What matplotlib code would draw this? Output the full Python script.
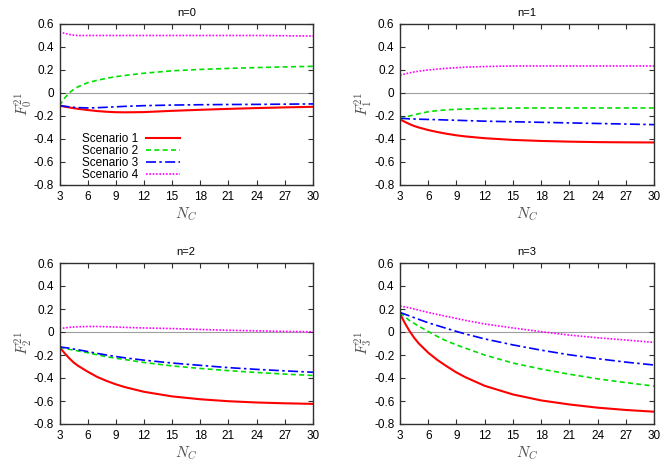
import numpy as np
import matplotlib
matplotlib.use('Agg')
import matplotlib.pyplot as plt

plt.rcParams['font.family'] = ['Liberation Sans', 'DejaVu Sans']
plt.rcParams['mathtext.fontset'] = 'cm'

# sampled N_C values
nc = [3, 3.5, 4, 4.5, 5, 6, 7, 8, 9, 10, 12, 15, 18, 21, 24, 27, 30]

# n=0
s1_n0 = [-0.11, -0.118, -0.125, -0.132, -0.138, -0.148, -0.157, -0.163, -0.167, -0.168, -0.166, -0.155, -0.146, -0.138, -0.131, -0.125, -0.12]
s2_n0 = [-0.11, -0.05, 0.0, 0.03, 0.055, 0.09, 0.11, 0.128, 0.142, 0.153, 0.172, 0.193, 0.205, 0.214, 0.221, 0.227, 0.232]
s3_n0 = [-0.11, -0.115, -0.12, -0.124, -0.127, -0.13, -0.128, -0.124, -0.12, -0.116, -0.11, -0.105, -0.102, -0.1, -0.099, -0.097, -0.095]
s4_n0 = [0.53, 0.52, 0.51, 0.503, 0.50, 0.50, 0.50, 0.50, 0.50, 0.50, 0.50, 0.50, 0.50, 0.50, 0.50, 0.498, 0.495]

# n=1
s1_n1 = [-0.23, -0.25, -0.27, -0.287, -0.30, -0.322, -0.34, -0.355, -0.368, -0.378, -0.393, -0.408, -0.417, -0.423, -0.427, -0.429, -0.43]
s2_n1 = [-0.23, -0.215, -0.20, -0.19, -0.18, -0.163, -0.153, -0.146, -0.142, -0.139, -0.135, -0.131, -0.13, -0.13, -0.13, -0.13, -0.13]
s3_n1 = [-0.22, -0.222, -0.225, -0.226, -0.228, -0.23, -0.232, -0.235, -0.237, -0.24, -0.245, -0.25, -0.255, -0.26, -0.265, -0.27, -0.275]
s4_n1 = [0.155, 0.165, 0.175, 0.183, 0.19, 0.20, 0.208, 0.215, 0.22, 0.225, 0.23, 0.235, 0.235, 0.235, 0.235, 0.235, 0.235]

# n=2
s1_n2 = [-0.13, -0.18, -0.225, -0.265, -0.295, -0.345, -0.39, -0.425, -0.455, -0.48, -0.52, -0.56, -0.585, -0.602, -0.613, -0.62, -0.625]
s2_n2 = [-0.13, -0.14, -0.15, -0.158, -0.165, -0.18, -0.198, -0.215, -0.228, -0.24, -0.265, -0.295, -0.317, -0.336, -0.352, -0.366, -0.378]
s3_n2 = [-0.13, -0.135, -0.14, -0.148, -0.155, -0.17, -0.186, -0.20, -0.213, -0.225, -0.245, -0.27, -0.29, -0.31, -0.325, -0.338, -0.35]
s4_n2 = [0.03, 0.035, 0.04, 0.043, 0.045, 0.048, 0.048, 0.046, 0.043, 0.04, 0.035, 0.03, 0.022, 0.015, 0.01, 0.005, 0.002]

# n=3
s1_n3 = [0.16, 0.08, 0.01, -0.05, -0.10, -0.18, -0.245, -0.30, -0.352, -0.395, -0.468, -0.543, -0.595, -0.63, -0.658, -0.678, -0.693]
s2_n3 = [0.17, 0.135, 0.10, 0.075, 0.05, 0.005, -0.04, -0.08, -0.112, -0.142, -0.20, -0.27, -0.322, -0.367, -0.407, -0.44, -0.47]
s3_n3 = [0.17, 0.155, 0.14, 0.125, 0.11, 0.08, 0.055, 0.03, 0.005, -0.018, -0.06, -0.112, -0.158, -0.198, -0.232, -0.262, -0.287]
s4_n3 = [0.225, 0.218, 0.21, 0.2, 0.19, 0.17, 0.152, 0.135, 0.118, 0.10, 0.07, 0.035, 0.003, -0.027, -0.05, -0.07, -0.09]

panels = [
    ('n=0', r'$F_0^{21}$', [s1_n0, s2_n0, s3_n0, s4_n0]),
    ('n=1', r'$F_1^{21}$', [s1_n1, s2_n1, s3_n1, s4_n1]),
    ('n=2', r'$F_2^{21}$', [s1_n2, s2_n2, s3_n2, s4_n2]),
    ('n=3', r'$F_3^{21}$', [s1_n3, s2_n3, s3_n3, s4_n3]),
]
labels = ['Scenario 1', 'Scenario 2', 'Scenario 3', 'Scenario 4']
colors = ['#ff0000', '#00e000', '#0000ff', '#ff00ff']
styles = ['-', (0, (3, 2)), (0, (6, 2, 1.5, 2)), (0, (1, 1))]
widths = [1.5, 1.2, 1.2, 1.2]

xticks = list(range(3, 31, 3))
yticks = [0.6, 0.4, 0.2, 0, -0.2, -0.4, -0.6, -0.8]
ytick_labels = ['0.6', '0.4', '0.2', '0', '-0.2', '-0.4', '-0.6', '-0.8']

fig = plt.figure(figsize=(6.64, 4.62), dpi=100)
W, H = 664.0, 462.0
boxes = [(59.5, 24, 313, 185), (400, 24, 654, 185),
         (59.5, 263, 313, 424), (400, 263, 654, 424)]

for (title, ylab, series), (l, t, r, b) in zip(panels, boxes):
    ax = fig.add_axes([l / W, 1 - b / H, (r - l) / W, (b - t) / H])
    ax.axhline(0, color='#a0a0a0', lw=0.8, zorder=1)
    for vals, lab, c, ls, lw in zip(series, labels, colors, styles, widths):
        ax.plot(nc, vals, color=c, linestyle=ls, lw=lw, label=lab, zorder=2)
    ax.set_xlim(3, 30)
    ax.set_ylim(-0.8, 0.6)
    ax.set_xticks(xticks)
    ax.set_yticks(yticks)
    ax.set_yticklabels(ytick_labels)
    ax.tick_params(direction='in', length=3.5, width=0.8, labelsize=8.5,
                   top=True, right=True, pad=4, colors='#303030', labelcolor='black')
    for sp in ax.spines.values():
        sp.set_color('#303030')
        sp.set_linewidth(1.0)
    ax.set_title(title, fontsize=8, pad=6)
    ax.set_xlabel(r'$N_C$', fontsize=11, color='#505050', labelpad=2)
    ax.set_ylabel(ylab, fontsize=11, color='#505050', labelpad=-1)
    if title == 'n=0':
        ax.legend(loc='lower left', bbox_to_anchor=(0.09, 0.022), frameon=False,
                  markerfirst=False, fontsize=8.5, handlelength=2.9,
                  labelspacing=0.02, handletextpad=0.6, borderaxespad=0,
                  borderpad=0)

fig.savefig('out.png', dpi=100)
